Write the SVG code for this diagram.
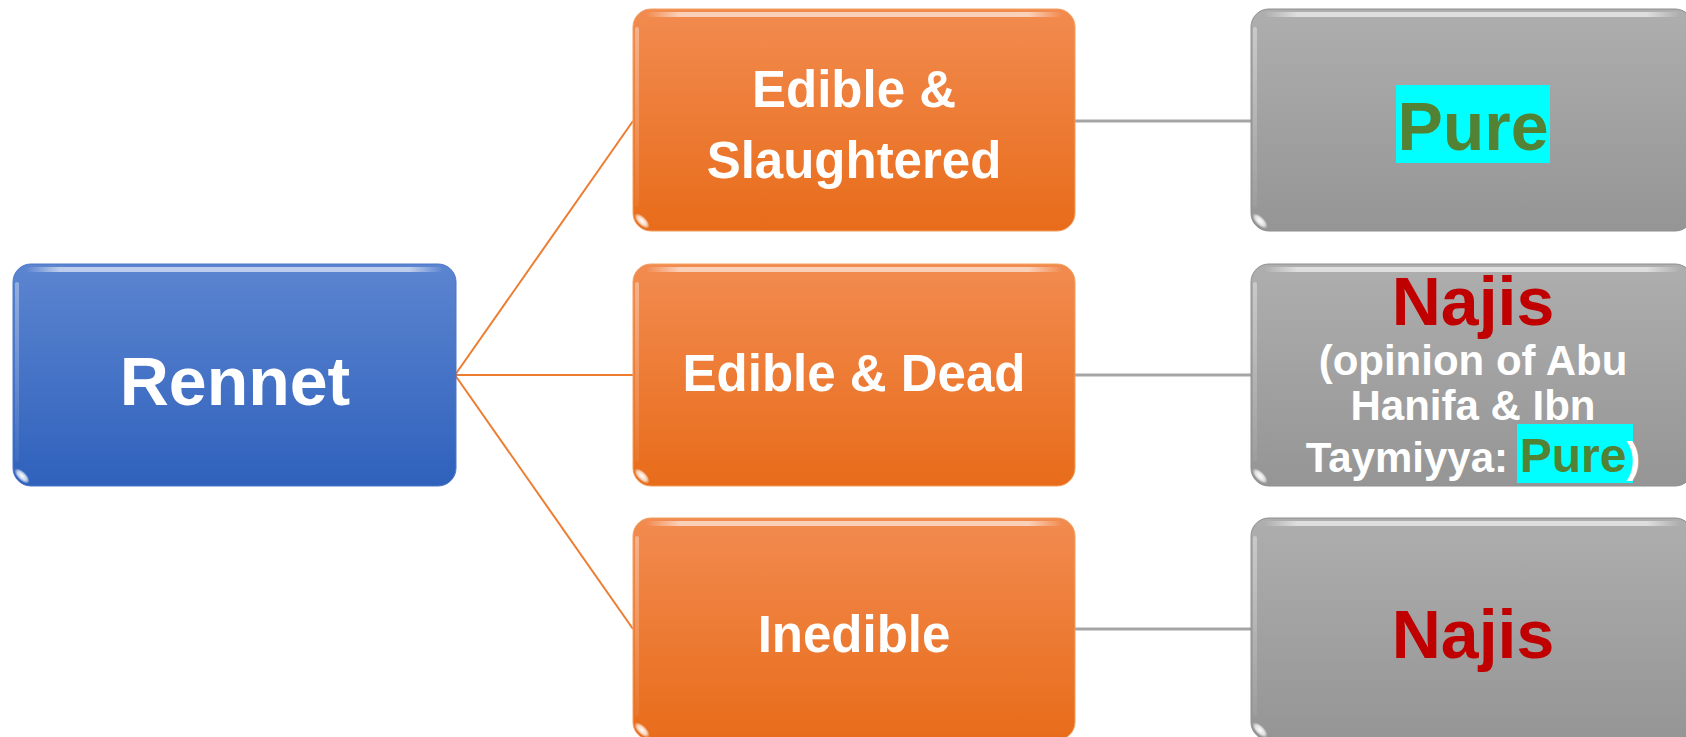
<svg xmlns="http://www.w3.org/2000/svg" width="1686" height="737" viewBox="0 0 1686 737">
<defs>
<linearGradient id="gBlue" x1="0" y1="0" x2="0" y2="1"><stop offset="0" stop-color="#5C85D0"/><stop offset="1" stop-color="#2F61BC"/></linearGradient>
<linearGradient id="gOrange" x1="0" y1="0" x2="0" y2="1"><stop offset="0" stop-color="#F28B50"/><stop offset="1" stop-color="#E86C1A"/></linearGradient>
<linearGradient id="gGray" x1="0" y1="0" x2="0" y2="1"><stop offset="0" stop-color="#AEAEAE"/><stop offset="1" stop-color="#959595"/></linearGradient>
<linearGradient id="gShine" x1="0" y1="0" x2="1" y2="0"><stop offset="0" stop-color="#fff" stop-opacity="0"/><stop offset="0.08" stop-color="#fff" stop-opacity="0.6"/><stop offset="0.92" stop-color="#fff" stop-opacity="0.6"/><stop offset="1" stop-color="#fff" stop-opacity="0"/></linearGradient>
<linearGradient id="gSide" x1="0" y1="0" x2="0" y2="1"><stop offset="0" stop-color="#fff" stop-opacity="0.35"/><stop offset="1" stop-color="#fff" stop-opacity="0.05"/></linearGradient>
<radialGradient id="gGlare" cx="0.5" cy="0.5" r="0.5"><stop offset="0" stop-color="#fff" stop-opacity="1"/><stop offset="0.6" stop-color="#fff" stop-opacity="0.7"/><stop offset="1" stop-color="#fff" stop-opacity="0"/></radialGradient>
</defs>
<style>
.t{font-family:"Liberation Sans",Arial,sans-serif;font-weight:bold;text-anchor:middle}
.w{fill:#fff}
.big{font-size:68px}
.mid{font-size:51px}
.sm{font-size:42px}
.red{fill:#C00000}
.grn{fill:#548235}
.shine{fill:url(#gShine)}
.side{fill:url(#gSide)}
.glare{fill:url(#gGlare)}
.lo{stroke:#ED7D31;stroke-width:2;fill:none}
.lg{stroke:#A5A5A5;stroke-width:3;fill:none}
</style>
<rect width="1686" height="737" fill="#fff"/>
<g id="connectors">
<line class="lo" x1="455" y1="375" x2="633" y2="121"/>
<line class="lo" x1="455" y1="375" x2="633" y2="375"/>
<line class="lo" x1="455" y1="375" x2="633" y2="629"/>
<line class="lg" x1="1075" y1="121" x2="1251" y2="121"/>
<line class="lg" x1="1075" y1="375" x2="1251" y2="375"/>
<line class="lg" x1="1075" y1="629" x2="1251" y2="629"/>
</g>
<g id="rennet">
<rect x="13" y="264" width="443" height="222" rx="18" fill="url(#gBlue)" stroke="#4A77C8" stroke-width="1"/>
<rect x="26" y="267" width="417" height="5" rx="2.5" class="shine"/>
<rect x="15" y="282" width="4" height="180" rx="2" class="side"/>
<ellipse cx="22" cy="476" rx="10" ry="4.5" transform="rotate(45 22 476)" class="glare"/>
<text class="t w big" x="235" y="405">Rennet</text>
</g>
<g id="edible-slaughtered">
<rect x="633" y="9" width="442" height="222" rx="18" fill="url(#gOrange)" stroke="#F0A060" stroke-width="1"/>
<rect x="646" y="12" width="416" height="5" rx="2.5" class="shine"/>
<rect x="635" y="27" width="4" height="180" rx="2" class="side"/>
<ellipse cx="642" cy="221" rx="10" ry="4.5" transform="rotate(45 642 221)" class="glare"/>
<text class="t w mid" x="854" y="107">Edible &amp;</text>
<text class="t w mid" x="854" y="178">Slaughtered</text>
</g>
<g id="edible-dead">
<rect x="633" y="264" width="442" height="222" rx="18" fill="url(#gOrange)" stroke="#F0A060" stroke-width="1"/>
<rect x="646" y="267" width="416" height="5" rx="2.5" class="shine"/>
<rect x="635" y="282" width="4" height="180" rx="2" class="side"/>
<ellipse cx="642" cy="476" rx="10" ry="4.5" transform="rotate(45 642 476)" class="glare"/>
<text class="t w mid" x="854" y="391">Edible &amp; Dead</text>
</g>
<g id="inedible">
<rect x="633" y="518" width="442" height="222" rx="18" fill="url(#gOrange)" stroke="#F0A060" stroke-width="1"/>
<rect x="646" y="521" width="416" height="5" rx="2.5" class="shine"/>
<rect x="635" y="536" width="4" height="180" rx="2" class="side"/>
<ellipse cx="642" cy="730" rx="10" ry="4.5" transform="rotate(45 642 730)" class="glare"/>
<text class="t w mid" x="854" y="652">Inedible</text>
</g>
<g id="pure">
<rect x="1251" y="9" width="442" height="222" rx="18" fill="url(#gGray)" stroke="#8E8E8E" stroke-width="1"/>
<rect x="1264" y="12" width="416" height="5" rx="2.5" class="shine"/>
<rect x="1253" y="27" width="4" height="180" rx="2" class="side"/>
<ellipse cx="1260" cy="221" rx="10" ry="4.5" transform="rotate(45 1260 221)" class="glare"/>
<rect x="1396" y="85" width="154" height="78" fill="#00FFFF"/>
<text class="t grn big" x="1473" y="150">Pure</text>
</g>
<g id="najis-dead">
<rect x="1251" y="264" width="442" height="222" rx="18" fill="url(#gGray)" stroke="#8E8E8E" stroke-width="1"/>
<rect x="1264" y="267" width="416" height="5" rx="2.5" class="shine"/>
<rect x="1253" y="282" width="4" height="180" rx="2" class="side"/>
<ellipse cx="1260" cy="476" rx="10" ry="4.5" transform="rotate(45 1260 476)" class="glare"/>
<text class="t red big" x="1473" y="325">Najis</text>
<text class="t w sm" x="1473" y="375">(opinion of Abu</text>
<text class="t w sm" x="1473" y="420">Hanifa &amp; Ibn</text>
<rect x="1517" y="424" width="116" height="59" fill="#00FFFF"/>
<text class="t w sm" x="1473" y="472">Taymiyya: <tspan class="grn" font-size="48">Pure</tspan>)</text>
</g>
<g id="najis-inedible">
<rect x="1251" y="518" width="442" height="222" rx="18" fill="url(#gGray)" stroke="#8E8E8E" stroke-width="1"/>
<rect x="1264" y="521" width="416" height="5" rx="2.5" class="shine"/>
<rect x="1253" y="536" width="4" height="180" rx="2" class="side"/>
<ellipse cx="1260" cy="730" rx="10" ry="4.5" transform="rotate(45 1260 730)" class="glare"/>
<text class="t red big" x="1473" y="658">Najis</text>
</g>
</svg>
